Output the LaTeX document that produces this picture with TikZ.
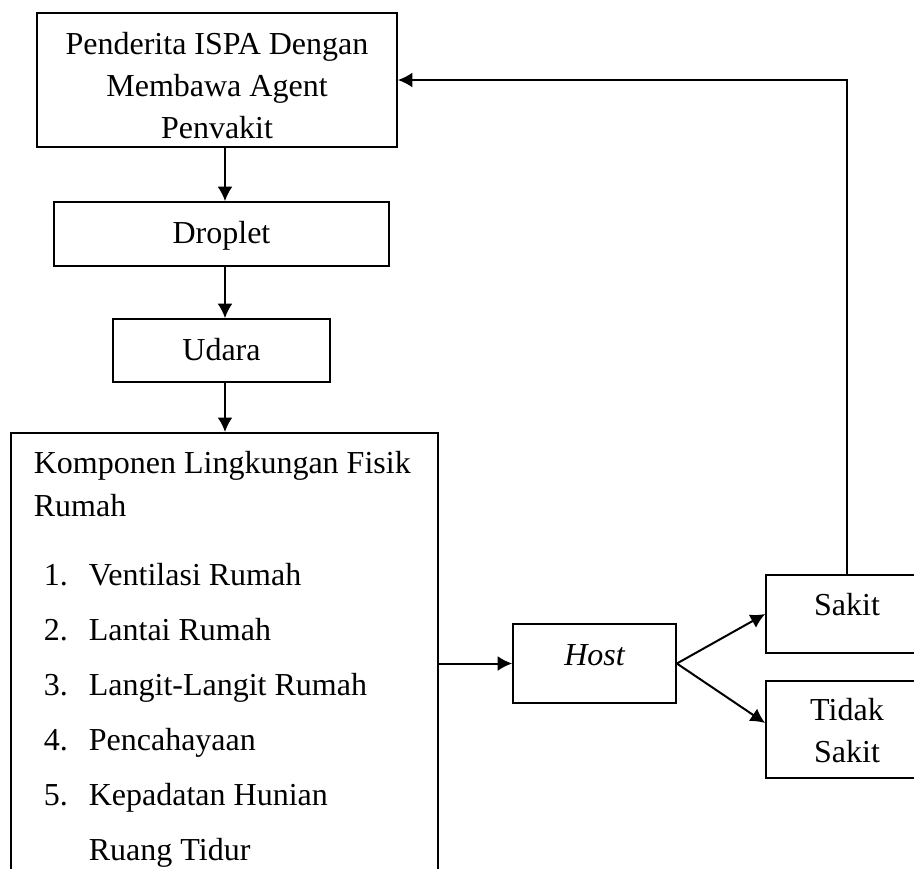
\documentclass[tikz,border=0pt]{standalone}
\usepackage{fontspec}
\setmainfont{Liberation Serif}
\usetikzlibrary{arrows.meta, positioning, calc}

\begin{document}
\begin{tikzpicture}[
    x=0.4pt, y=-0.4pt,
    font=\fontsize{12.8}{16.8}\selectfont,
    kotak/.style={draw, line width=0.7pt, inner sep=0pt, align=center},
    arr/.style={-{Latex[length=5.8pt, width=6pt]}, line width=0.8pt}
  ]
  \clip (0,0) rectangle (914,868);

  \node[kotak, minimum width=144pt, text height=50pt, text depth=3.6pt] (penderita) at (217,80)
    {Penderita ISPA Dengan\\ Membawa Agent\\ Penvakit};
  \node[kotak, minimum width=134pt, text height=16.4pt, text depth=9.2pt] (droplet) at (221.5,234) {Droplet};
  \node[kotak, minimum width=86.8pt, text height=16.4pt, text depth=8.8pt] (udara) at (221.5,350.5) {Udara};
  \node[kotak, anchor=north west, align=flush left, text width=152.4pt, inner xsep=9.2pt,
    text height=16.4pt, text depth=162.8pt] (fisik) at (10,432)
    {Komponen Lingkungan Fisik\\[0.4pt] Rumah\\[10.8pt]
     \hspace*{4pt}\makebox[18pt][l]{1.}Ventilasi Rumah\\[5.2pt]
     \hspace*{4pt}\makebox[18pt][l]{2.}Lantai Rumah\\[5.2pt]
     \hspace*{4pt}\makebox[18pt][l]{3.}Langit-Langit Rumah\\[5.2pt]
     \hspace*{4pt}\makebox[18pt][l]{4.}Pencahayaan\\[5.2pt]
     \hspace*{4pt}\makebox[18pt][l]{5.}Kepadatan Hunian\\[5.2pt]
     \hspace*{22pt}Ruang Tidur};

  \node[kotak, minimum width=65.2pt, text height=16.4pt, text depth=15.2pt] (host) at (594.5,663.5) {\itshape Host};
  \node[kotak, minimum width=64.8pt, text height=16pt, text depth=15.2pt] (sakit) at (847,614) {Sakit};
  \node[kotak, minimum width=64.8pt, text height=32.4pt, text depth=6.4pt] (tidak) at (847,729.5) {Tidak\\ Sakit};

  \coordinate (spine) at (225,0);
  \draw[arr] (penderita.south -| spine) -- (droplet.north -| spine);
  \draw[arr] (droplet.south -| spine) -- (udara.north -| spine);
  \draw[arr] (udara.south -| spine) -- (fisik.north -| spine);
  \draw[arr] (host.west -| fisik.east) -- (host.west);
  \draw[arr] (host.east) -- (sakit.west);
  \draw[arr] (host.east) -- ([yshift=2.6pt]tidak.west);
  \draw[arr] (sakit.north) |- (penderita.east);
\end{tikzpicture}
\end{document}
